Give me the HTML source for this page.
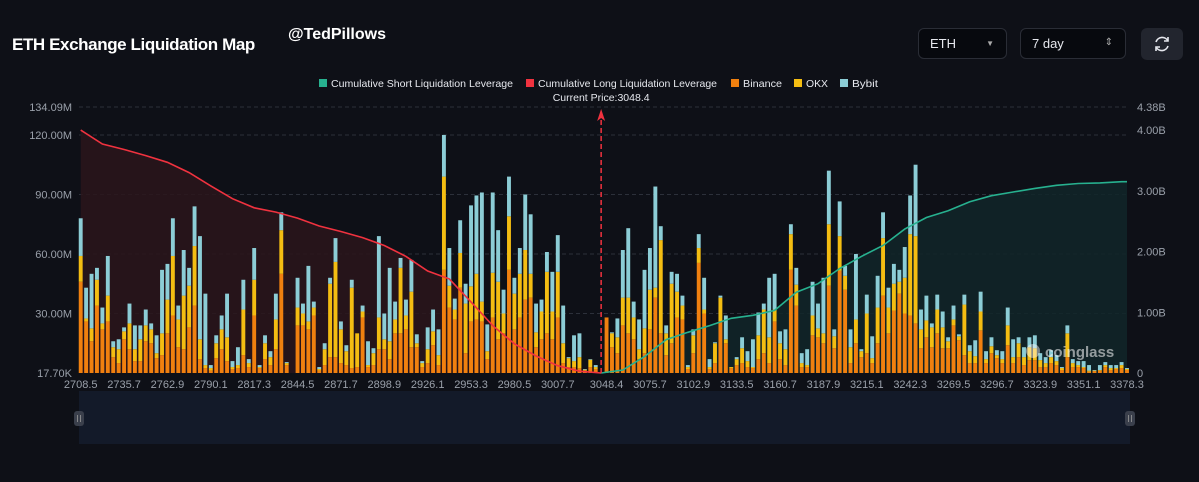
<!DOCTYPE html>
<html><head><meta charset="utf-8">
<style>
html,body{margin:0;padding:0;background:#0e1017;width:1199px;height:482px;overflow:hidden;font-family:"Liberation Sans",sans-serif;}
#wrap{position:relative;width:1199px;height:482px;}
.title{position:absolute;left:12px;top:35px;color:#fff;font-weight:bold;font-size:17px;letter-spacing:-0.4px;}
.handle{position:absolute;left:288px;top:26px;color:#fff;font-weight:bold;font-size:16px;}
.sel{position:absolute;top:28px;height:31px;border:1px solid #2a2d36;border-radius:6px;background:#07090e;color:#e6e8ee;font-size:13px;box-sizing:border-box;line-height:29px;padding-left:11px;}
.btn{position:absolute;left:1141px;top:28px;width:42px;height:32px;border-radius:6px;background:#22252e;}
</style></head><body>
<div id="wrap">
<div class="title">ETH Exchange Liquidation Map</div>
<div class="handle">@TedPillows</div>
<div class="sel" style="left:918px;width:89px;">ETH<span style="position:absolute;right:12px;top:0;font-size:8px;color:#aaa;">▼</span></div>
<div class="sel" style="left:1020px;width:106px;">7 day<span style="position:absolute;right:12px;top:-1px;font-size:10px;color:#aaa;">⇕</span></div>
<div class="btn">
<svg width="42" height="32"><g fill="none" stroke="#e6e8ee" stroke-width="1.6"><path d="M15 14 A6.5 6.5 0 0 1 27 13"/><path d="M27 18 A6.5 6.5 0 0 1 15 19"/><path d="M27 9 L27 13 L23 13"/><path d="M15 23 L15 19 L19 19"/></g></svg>
</div>
<svg id="chart" width="1199" height="482" style="position:absolute;left:0;top:0;"></svg>
</div>
<script>
const binance=[46,26,16,34,22,26,8,5,17,12,6,6,16,15,7.5,9,20,29,13,12,23,34,7,2.5,1.3,7.5,12,6,2,2.5,9,3,29,2.5,7,4,12,50,4,0,24,24,22,29,1.3,4,8,8,5,4,2.5,3,28,3,4,12,12,7,20,20,22,13,13,3,5,14,4,52,33,27,43,10,26,27,26,7,28,17,20,52,22,28,37,38,13,17,20,17,28,5,3,3,2.5,1.3,3,2,0,28,13,10,24,20,17,7,10,22,38,20,9,15,28,27,2,10,55.5,30,2,5,26,15,2.5,4,5,3,2.5,7,10,5,26,7,4,52,34,3,3,19,18,15,44,12.5,51.5,42,5,15,8,10,5,15,39,20,31.5,40,30,29,25,12.5,18,13,20,12.5,12.5,24,16.5,9,5,5,21.5,5,10,7.5,5,14,5,8,4,6.5,6.5,3,3,5,4,1.5,8,3,3,2.5,0.7,1,1.2,3,1.5,2,2.5,1.5];
const okx=[13,1.5,6.5,13,3,13,5,7,4,13,6,11,8,7,2.5,11,17,30,14,27,21,30,10,1.5,1.2,7.5,10,12,1,1.5,23,2,18,0.5,8,4,15,22,1,0,9,6,4,4,0.7,8,37,48,17,7,40.5,17,3,1,6,16,5,9,7,33,7,28,2,2,7,7,5,47,11,5,17.5,25,17.7,23,10,4,22.5,29,10,27,18,22,25,12,7.5,14,31,14,23,10,4.5,3,5.5,0.4,3.7,1,0,0,7,8,14,18,11,5,12.5,20,5,47,11,30,13,7,1,9,7.5,2,1,10,12,2,0.5,3,7.5,3,0.5,12,22,13,6,8,8,18,10.5,2,1,10,4.5,5,31,6,17.5,7,8,12,3,20,2.5,18,29,13,13.5,6,18,41,44,9.5,8.5,10,12,10.5,3.5,3,2,25.5,6,3.5,9.5,2,3.5,1.5,2,10,3,7,4,6.5,6,3.5,2,3,2,1,12,2,1,0.5,0.5,0.2,0.3,1,1,0.5,1.5,0.5];
const bybit=[19,15.5,27.5,6,8,20,3,5,2,10,12,7,8,3,9,32,18,19,7,23,9,20,52,36,1.5,4,7,22,3,9,15,2,16,1,4,3,13,9,0.5,0,15,5,28,3,1,3,3,12,4,3,4,0,3,12,2.5,41,13,37,9,5,8,16,4.5,1,11,11,13,21,19,5.5,16.5,10,40.8,39.5,55,13.5,40.5,26,12,20,8,13,28,30,14.5,6,10,20,18.5,19,0.5,13,12,0.3,0.3,1,0,0,0.5,9.5,24,35,8,15,29.5,21,51,7,4,6,9,5,1,3,7,16,4,0.5,1,12,0,1,5.5,5,14,11.5,3,30,18,6,10,5,8.5,5,8,17,12.5,28,27,3.5,17.5,5,9,33,1,9.5,11,16,13,10,10,6,15.5,19.5,36,10,12.5,2,7.5,8,2,7,1,5,3,8,10,4,4.5,2.5,4,9,9,3,5,5,6.5,3.5,3,3.5,3,0.5,4,2,2,3,2.8,0.3,2.5,1.5,1.5,1.5,1.5,0.5];
const tickLabels=["2708.5","2735.7","2762.9","2790.1","2817.3","2844.5","2871.7","2898.9","2926.1","2953.3","2980.5","3007.7","3048.4","3075.7","3102.9","3133.5","3160.7","3187.9","3215.1","3242.3","3269.5","3296.7","3323.9","3351.1","3378.3"];
const leftTicks=[0,30,60,90,120,134.09];
const leftTickLabels=["17.70K","30.00M","60.00M","90.00M","120.00M","134.09M"];
const rightTicks=[0,1,2,3,4,4.38];
const rightTickLabels=["0","1.00B","2.00B","3.00B","4.00B","4.38B"];
const longCum=[4.00,3.77,3.68,3.58,3.47,3.30,3.08,2.87,2.72,2.65,2.55,2.42,2.33,2.23,2.10,1.92,1.68,1.55,1.17,0.78,0.48,0.28,0.12,0.03,0];
const shortCum=[0,0.05,0.27,0.55,0.67,0.78,0.90,0.95,1.03,1.33,1.47,1.72,1.92,2.10,2.37,2.56,2.67,2.82,2.92,2.98,3.04,3.09,3.12,3.13,3.15,3.15];
const currentPriceIndex=96;

const NS="http://www.w3.org/2000/svg";
const svg=document.getElementById('chart');
const X0=80.7,X1=1127,Y0=373,YT=107;
const n=binance.length;
const step=(X1-X0)/(n-1);
const xS=i=>X0+i*step;
const yL=v=>Y0-(v/134.09)*(Y0-YT);
const yR=v=>Y0-(v/4.38)*(Y0-YT);
function mk(tag,attrs,parent){const e=document.createElementNS(NS,tag);for(const k in attrs)e.setAttribute(k,attrs[k]);(parent||svg).appendChild(e);return e;}

leftTicks.forEach((v,i)=>{
  if(i>0){const g=mk('line',{x1:79,x2:1129,y1:yL(v),y2:yL(v),stroke:'#2c303a','stroke-dasharray':'4,3','stroke-width':1});
  
  }
  const t=mk('text',{x:72,y:yL(v)+4,'text-anchor':'end',fill:'#9aa0aa','font-size':11});
  t.textContent=leftTickLabels[i];
  
  
});
rightTicks.forEach((v,i)=>{
  const t=mk('text',{x:1137,y:yR(v)+4,fill:'#9aa0aa','font-size':11});
  t.textContent=rightTickLabels[i];
  
  
});

function pathFor(arr,startIdx){return arr.map((v,k)=>{const i=Math.min(startIdx+k*4,n-1);return (k?'L':'M')+xS(i).toFixed(1)+','+yR(v).toFixed(1);}).join(' ');}
const lp=pathFor(longCum,0);
const la=mk('path',{d:lp+' L'+xS(currentPriceIndex)+','+Y0+' L'+X0+','+Y0+' Z',fill:'#2a151b',opacity:0.85});


const sp=pathFor(shortCum,currentPriceIndex);
const sa=mk('path',{d:sp+' L'+X1+','+Y0+' L'+xS(currentPriceIndex)+','+Y0+' Z',fill:'#112629',opacity:0.85});



const bw=3.9;
for(let i=0;i<n;i++){
  const x=xS(i)-bw/2;
  const segs=[[binance[i],'#f0800f','bar-binance'],[okx[i],'#f4bd12','bar-okx'],[bybit[i],'#8ccdd6','bar-bybit']];
  let acc=0;
  segs.forEach(s=>{
    if(s[0]<=0)return;
    const y1=yL(acc+s[0]),y2=yL(acc);
    const r=mk('rect',{x:x.toFixed(2),y:y1.toFixed(2),width:bw,height:(y2-y1).toFixed(2),fill:s[1]});
    
    
    acc+=s[0];
  });
}

const ll=mk('path',{d:lp,fill:'none',stroke:'#f0323f','stroke-width':1.6});


const sl=mk('path',{d:sp,fill:'none',stroke:'#27b18f','stroke-width':1.6});



const cx=xS(currentPriceIndex);
const cl=mk('line',{x1:cx,x2:cx,y1:Y0,y2:116,stroke:'#f0323f','stroke-width':1.5,'stroke-dasharray':'5,3'});


const ca=mk('path',{d:`M${cx},109 L${cx-4},121 L${cx},118 L${cx+4},121 Z`,fill:'#f0323f'});


const ct=mk('text',{x:cx,y:101,'text-anchor':'middle',fill:'#e6e8ee','font-size':10.5});
ct.textContent='Current Price:3048.4';



tickLabels.forEach((t,k)=>{
  const i=Math.round(k*(n-1)/(tickLabels.length-1));
  const e=mk('text',{x:xS(i),y:388,'text-anchor':'middle',fill:'#9aa0aa','font-size':11});
  e.textContent=t;
  
  
});

const legend=[[319,'#27b18f','Cumulative Short Liquidation Leverage',182],[526,'#f0323f','Cumulative Long Liquidation Leverage',179],[731,'#f0800f','Binance',39],[794,'#f4bd12','OKX',22],[840,'#8ccdd6','Bybit',26]];
legend.forEach(l=>{
  const g=mk('g',{});
  
  
  mk('rect',{x:l[0],y:79,width:8,height:8,fill:l[1]},g);
  const t=mk('text',{x:l[0]+12,y:87,fill:'#e6e8ee','font-size':10.5,textLength:l[3],lengthAdjust:'spacingAndGlyphs'},g);
  t.textContent=l[2];
});

const wm=mk('text',{x:1045,y:357,fill:'#ffffff',opacity:0.55,'font-size':15,'font-weight':'bold'});
wm.textContent='coinglass';


mk('circle',{cx:1033,cy:351,r:7,fill:'#ffffff',opacity:0.45});

const sb=mk('rect',{x:79,y:391,width:1051,height:53,fill:'#131a29'});


[79,1130].forEach(hx=>{
  const h=mk('rect',{x:hx-5,y:411,width:10,height:15,rx:3,fill:'#3a3f4b'});
  
  
  mk('line',{x1:hx-1.5,x2:hx-1.5,y1:415,y2:422,stroke:'#999','stroke-width':0.8});
  mk('line',{x1:hx+1.5,x2:hx+1.5,y1:415,y2:422,stroke:'#999','stroke-width':0.8});
});
</script>
</body></html>
